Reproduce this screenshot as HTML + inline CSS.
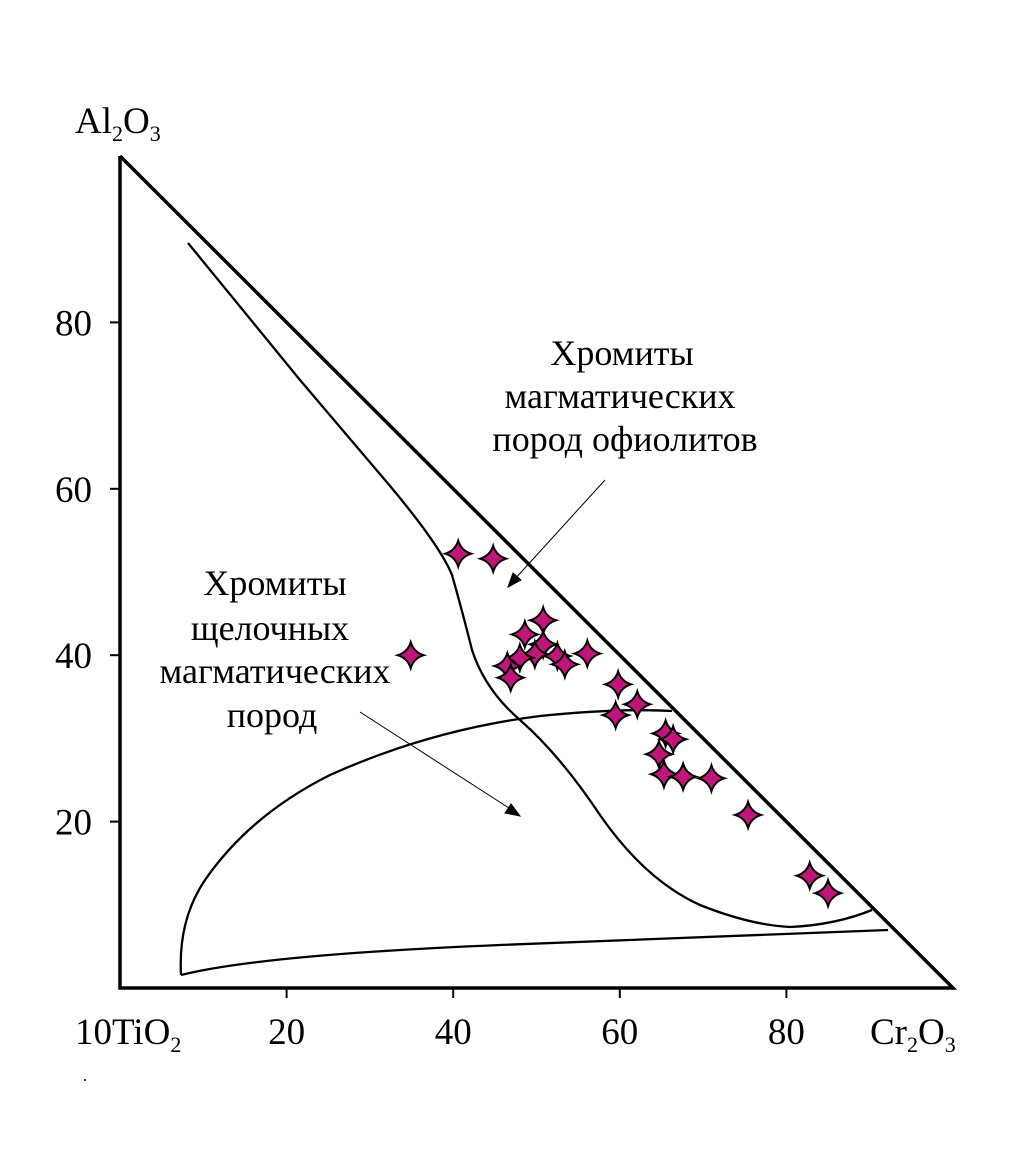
<!DOCTYPE html>
<html><head><meta charset="utf-8"><style>
body{margin:0;background:#fff}
svg text{font-family:"Liberation Serif",serif;fill:#000}
</style></head><body>
<svg id="chart" width="1010" height="1169" viewBox="0 0 1010 1169" xmlns="http://www.w3.org/2000/svg">
<g id="frame">
<polyline points="120,156 120,988 953,988 120,156" fill="none" stroke="#000" stroke-width="3.5"/>
</g>
<g id="fields" fill="none" stroke="#000" stroke-width="2.3">
<path d="M188,243 L300,380 L385,480 Q440,545 452,575 Q462,610 472,650 Q485,690 520,720 Q560,755 600,815 Q645,880 700,905 Q750,925 790,927 Q835,925 872,910"/>
<path d="M181,975 Q178,920 205,880 Q250,815 330,775 Q430,730 540,716 Q620,708 672,711"/>
<path d="M181,975 Q260,955 500,945 L888,930"/>
</g>
<g stroke="#000" stroke-width="1">
<line x1="605" y1="480" x2="514" y2="580"/>
<polygon points="508,587 513,573 521,580" fill="#000"/>
<line x1="360" y1="712" x2="512" y2="810"/>
<polygon points="520,816 505,813 511,804" fill="#000"/>
</g>
<g>
<text x="622" y="365" text-anchor="middle" font-size="36">Хромиты</text>
<text x="620" y="408" text-anchor="middle" font-size="36">магматических</text>
<text x="625" y="451" text-anchor="middle" font-size="36">пород офиолитов</text>
<text x="275" y="595" text-anchor="middle" font-size="36">Хромиты</text>
<text x="270" y="640" text-anchor="middle" font-size="36">щелочных</text>
<text x="275" y="683" text-anchor="middle" font-size="36">магматических</text>
<text x="272" y="727" text-anchor="middle" font-size="36">пород</text>
</g>
<g id="axes"></g>
<g id="points"></g>
<g font-size="37">
<text x="75" y="133">Al<tspan font-size="22" dy="8">2</tspan><tspan dy="-8">O</tspan><tspan font-size="22" dy="8">3</tspan></text>
<text x="75" y="1044">10TiO<tspan font-size="22" dy="8">2</tspan></text>
<text x="870" y="1044">Cr<tspan font-size="22" dy="8">2</tspan><tspan dy="-8">O</tspan><tspan font-size="22" dy="8">3</tspan></text>
</g>
<rect x="84" y="1079" width="2" height="2" fill="#333"/>
</svg>
<script>
const xTicks=[20,40,60,80];
const yTicks=[20,40,60,80];
const px=[40.6,44.8,34.9,50.8,48.6,50.8,49.8,52.5,53.4,56.1,48.0,46.5,46.9,59.8,62.1,59.5,65.5,66.4,64.7,65.3,67.6,71.0,75.4,82.8,85.0];
const py=[52.2,51.6,40.0,44.2,42.5,41.3,40.1,39.9,38.9,40.2,39.7,38.7,37.3,36.5,34.1,32.8,30.6,29.9,28.1,25.7,25.4,25.2,20.8,13.5,11.4];
const NS='http://www.w3.org/2000/svg';
const X=v=>120+v*8.33, Y=v=>988-v*8.32;
const ax=document.getElementById('axes');
xTicks.forEach(t=>{
 const l=document.createElementNS(NS,'line');
 
 
 l.setAttribute('x1',X(t));l.setAttribute('x2',X(t));l.setAttribute('y1',988);l.setAttribute('y2',998);l.setAttribute('stroke','#000');l.setAttribute('stroke-width','2');ax.appendChild(l);
 const tx=document.createElementNS(NS,'text');
 
 
 tx.setAttribute('x',X(t));tx.setAttribute('y',1044);tx.setAttribute('text-anchor','middle');tx.setAttribute('font-size','37');tx.textContent=t;ax.appendChild(tx);
});
yTicks.forEach(t=>{
 const l=document.createElementNS(NS,'line');
 
 
 l.setAttribute('x1',110);l.setAttribute('x2',120);l.setAttribute('y1',Y(t));l.setAttribute('y2',Y(t));l.setAttribute('stroke','#000');l.setAttribute('stroke-width','2');ax.appendChild(l);
 const tx=document.createElementNS(NS,'text');
 
 
 tx.setAttribute('x',92);tx.setAttribute('y',Y(t)+13);tx.setAttribute('text-anchor','end');tx.setAttribute('font-size','37');tx.textContent=t;ax.appendChild(tx);
});
const g=document.getElementById('points');
px.forEach((v,i)=>{
 const cx=X(v), cy=Y(py[i]), r=13, k=3;
 const d=`M${cx},${cy-r} Q${cx+k},${cy-k} ${cx+r},${cy} Q${cx+k},${cy+k} ${cx},${cy+r} Q${cx-k},${cy+k} ${cx-r},${cy} Q${cx-k},${cy-k} ${cx},${cy-r}Z`;
 const p=document.createElementNS(NS,'path');
 
 
 p.setAttribute('d',d);p.setAttribute('fill','#c0157a');p.setAttribute('stroke','#000');p.setAttribute('stroke-width','2');
 g.appendChild(p);
});
</script>
</body></html>
